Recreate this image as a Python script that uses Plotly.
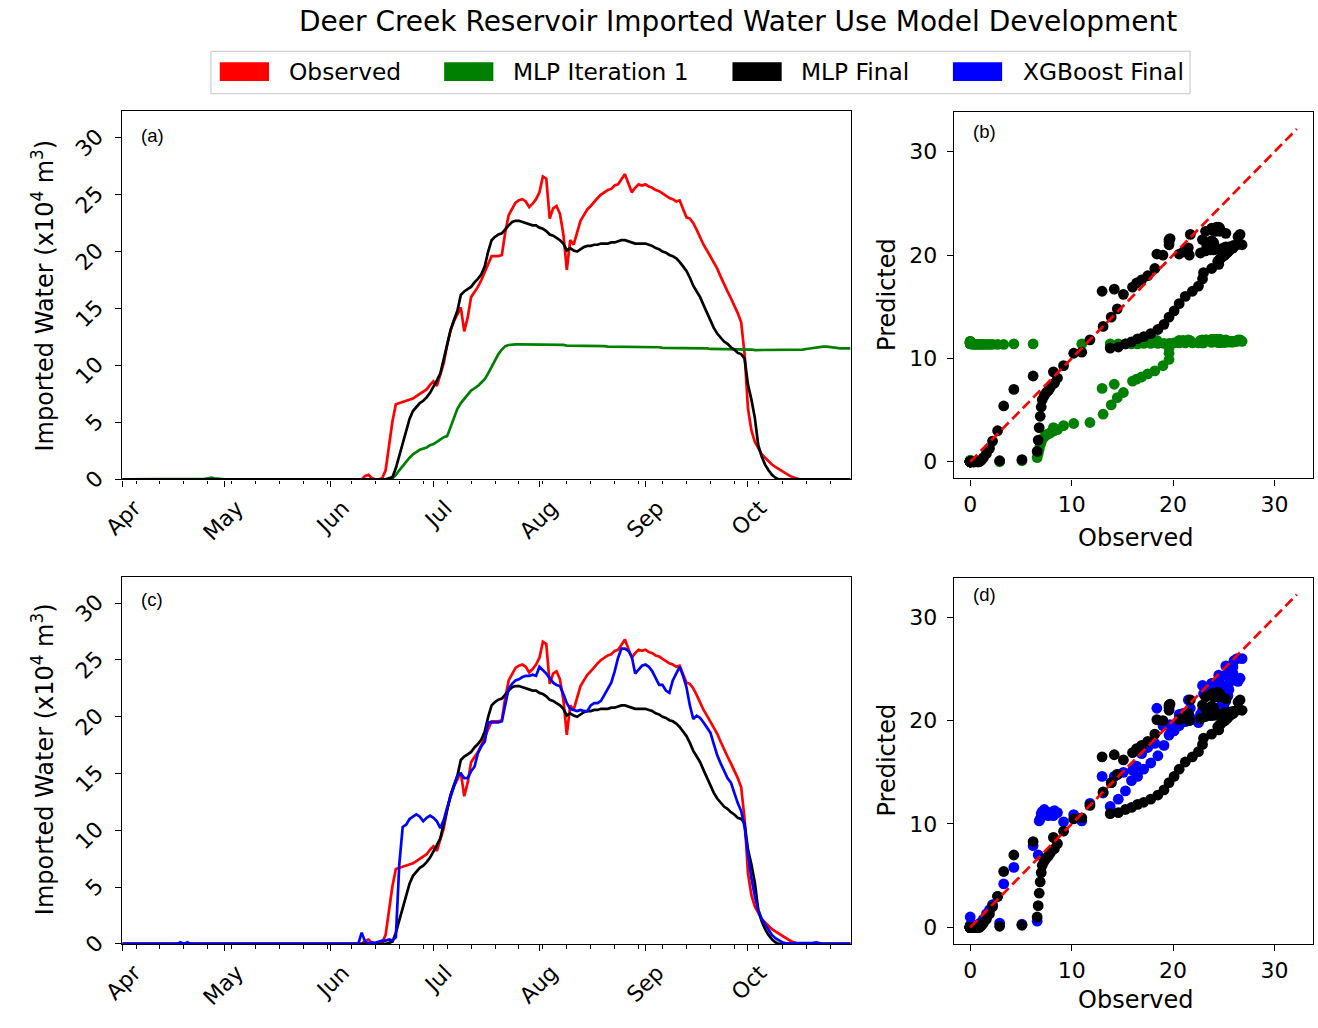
import pandas as pd
import plotly.graph_objects as go

# ---------------- data (daily, 1 Apr .. 31 Oct) ----------------
dates = pd.date_range("2022-04-01", "2022-10-31", freq="D")

observed = [
    0, 0, 0, 0, 0, 0, 0, 0, 0, 0,
    0, 0, 0, 0, 0, 0, 0, 0, 0, 0,
    0, 0, 0, 0, 0, 0, 0, 0, 0, 0,
    0, 0, 0, 0, 0, 0, 0, 0, 0, 0,
    0, 0, 0, 0, 0, 0, 0, 0, 0, 0,
    0, 0, 0, 0, 0, 0, 0, 0, 0, 0,
    0, 0, 0, 0, 0, 0, 0, 0, 0, 0,
    0.0, 0.3, 0.4, 0.1, 0.0, 0.0, 0.1, 0.8, 2.9, 5.1,
    6.6, 6.7, 6.8, 6.9, 7.0, 7.1, 7.3, 7.5, 7.7, 7.9,
    8.3, 8.6, 8.2, 9.2, 10.2, 11.8, 13.1, 13.9, 14.5, 15.1,
    13.0, 14.2, 16.0, 16.4, 16.9, 17.5, 18.2, 19.0, 19.6, 19.6,
    19.6, 19.7, 21.7, 23.2, 23.8, 24.3, 24.5, 24.6, 24.4, 23.9,
    24.2, 24.6, 25.2, 26.6, 26.4, 22.9, 23.8, 24.0, 23.3, 21.5,
    18.4, 21.0, 20.6, 21.6, 22.7, 23.2, 23.7, 24.0, 24.4, 24.7,
    25.0, 25.2, 25.4, 25.5, 25.8, 25.9, 26.3, 26.8, 26.0, 25.2,
    25.6, 25.9, 25.8, 25.9, 25.7, 25.6, 25.4, 25.3, 25.1, 24.9,
    24.7, 24.6, 24.4, 24.5, 23.8, 23.0, 22.9, 22.5, 21.9, 21.2,
    20.6, 20.1, 19.6, 19.1, 18.5, 17.8, 17.1, 16.5, 15.9, 15.3,
    14.6, 13.8, 11.0, 6.2, 4.3, 3.3, 2.7, 2.2, 1.9, 1.6,
    1.3, 1.1, 0.9, 0.7, 0.5, 0.35, 0.2, 0.1, 0, 0,
    0, 0, 0, 0, 0, 0, 0, 0, 0, 0,
    0, 0, 0, 0,
]

mlp_iter1 = [
    0, 0, 0, 0, 0, 0, 0, 0, 0, 0,
    0, 0, 0, 0, 0, 0, 0, 0, 0, 0,
    0, 0, 0, 0, 0.05, 0.1, 0.15, 0.1, 0.05, 0,
    0, 0, 0, 0, 0, 0, 0, 0, 0, 0,
    0, 0, 0, 0, 0, 0, 0, 0, 0, 0,
    0, 0, 0, 0, 0, 0, 0, 0, 0, 0,
    0, 0, 0, 0, 0, 0, 0, 0, 0, 0,
    0, 0, 0, 0, 0, 0, 0, 0, 0, 0.1,
    0.4, 0.8, 1.2, 1.6, 1.9, 2.2, 2.4, 2.6, 2.7, 2.8,
    3.0, 3.1, 3.3, 3.5, 3.7, 3.8, 4.6, 5.5, 6.2, 6.7,
    7.1, 7.5, 7.8, 8.0, 8.2, 8.5, 8.8, 9.3, 9.9, 10.5,
    11.0, 11.4, 11.7, 11.8, 11.85, 11.85, 11.85, 11.85, 11.85, 11.85,
    11.85, 11.85, 11.8, 11.8, 11.8, 11.8, 11.8, 11.8, 11.8, 11.8,
    11.75, 11.75, 11.75, 11.75, 11.75, 11.7, 11.7, 11.7, 11.7, 11.7,
    11.7, 11.7, 11.65, 11.65, 11.65, 11.65, 11.65, 11.65, 11.6, 11.6,
    11.6, 11.6, 11.6, 11.6, 11.6, 11.6, 11.6, 11.6, 11.55, 11.55,
    11.55, 11.55, 11.55, 11.55, 11.55, 11.5, 11.5, 11.5, 11.5, 11.5,
    11.5, 11.5, 11.45, 11.45, 11.45, 11.45, 11.45, 11.4, 11.4, 11.4,
    11.4, 11.4, 11.4, 11.4, 11.4, 11.35, 11.35, 11.35, 11.35, 11.35,
    11.35, 11.35, 11.35, 11.35, 11.35, 11.35, 11.4, 11.4, 11.4, 11.4,
    11.45, 11.5, 11.5, 11.55, 11.6, 11.65, 11.65, 11.6, 11.55, 11.5,
    11.5, 11.5, 11.5, 11.5,
]

mlp_final = [
    0, 0, 0, 0, 0, 0, 0, 0, 0, 0,
    0, 0, 0, 0, 0, 0, 0, 0, 0, 0,
    0, 0, 0, 0, 0, 0, 0, 0, 0, 0,
    0, 0, 0, 0, 0, 0, 0, 0, 0, 0,
    0, 0, 0, 0, 0, 0, 0, 0, 0, 0,
    0, 0, 0, 0, 0, 0, 0, 0, 0, 0,
    0, 0, 0, 0, 0, 0, 0, 0, 0, 0,
    0, 0, 0, 0, 0, 0, 0, 0, 0.1, 0.2,
    1.0, 2.1, 3.3, 4.4, 5.3, 6.0, 6.4, 6.7, 6.9, 7.2,
    7.6, 8.1, 8.7, 9.3, 10.5, 11.8, 13.1, 14.0, 14.8, 16.2,
    16.5, 16.7, 16.9, 17.3, 17.6, 18.0, 18.7, 20.0, 21.0, 21.3,
    21.5, 21.6, 22.0, 22.3, 22.6, 22.7, 22.7, 22.6, 22.5, 22.4,
    22.3, 22.3, 22.1, 22.0, 21.8, 21.5, 21.4, 21.2, 21.0, 20.7,
    20.1, 20.3, 20.1, 20.0, 20.2, 20.4, 20.5, 20.5, 20.6, 20.6,
    20.7, 20.7, 20.7, 20.8, 20.8, 20.9, 21.0, 21.0, 20.9, 20.8,
    20.7, 20.7, 20.7, 20.7, 20.6, 20.5, 20.3, 20.2, 20.0, 19.9,
    19.7, 19.6, 19.4, 19.1, 18.7, 18.3, 17.7, 17.0, 16.5, 16.0,
    15.3, 14.6, 14.0, 13.3, 12.8, 12.4, 12.1, 11.9, 11.6, 11.4,
    11.1, 11.0, 10.6, 8.3, 7.0, 5.4, 3.0, 2.0, 1.3, 0.8,
    0.4, 0.15, 0, 0, 0, 0, 0, 0, 0, 0,
    0, 0, 0, 0, 0, 0, 0, 0, 0, 0,
    0, 0, 0, 0,
]

xgb_final = [
    0, 0, 0, 0, 0, 0, 0, 0, 0, 0,
    0, 0, 0, 0, 0, 0, 0, 0.15, 0, 0.15,
    0, 0, 0, 0, 0, 0, 0, 0, 0, 0,
    0, 0, 0, 0, 0, 0, 0, 0, 0, 0,
    0, 0, 0, 0, 0, 0, 0, 0, 0, 0,
    0, 0, 0, 0, 0, 0, 0, 0, 0, 0,
    0, 0, 0, 0, 0, 0, 0, 0, 0, 0,
    1.0, 0.2, 0.05, 0.15, 0.1, 0.2, 0.3, 0.3, 0.4, 0.3,
    0.6, 7.0, 10.3, 10.5, 11.0, 11.2, 11.4, 11.2, 10.8, 11.1,
    11.3, 11.1, 10.8, 10.2, 10.9, 12.0, 13.0, 14.0, 14.8, 15.0,
    14.6, 14.6, 15.2, 15.6, 16.8, 17.4, 17.8, 19.5, 19.5, 19.5,
    19.5, 19.6, 21.2, 22.5, 22.9, 23.2, 23.3, 23.5, 23.6, 23.6,
    23.7, 23.6, 24.4, 24.1, 23.8, 23.4, 23.0, 22.8, 22.7, 22.0,
    21.2, 20.7, 20.6, 20.5, 20.6, 20.5, 20.5, 21.0, 21.2, 21.2,
    21.4, 21.9, 22.4, 23.0, 24.0, 25.2, 26.0, 26.0, 25.8, 25.3,
    23.8, 24.2, 24.5, 24.6, 24.4, 24.0, 23.4, 22.8, 22.8, 22.3,
    22.1, 23.2, 23.8, 24.4, 23.6, 22.6, 21.0, 19.8, 20.1, 19.9,
    19.5, 19.0, 18.6, 17.6, 16.6, 15.9, 15.3, 14.6, 14.2, 13.2,
    12.4, 11.7, 10.3, 7.9, 5.8, 4.2, 3.0, 2.2, 1.7, 1.3,
    0.8, 0.5, 0.3, 0.15, 0.05, 0.05, 0.05, 0.05, 0.05, 0.05,
    0.05, 0.05, 0.1, 0.15, 0.05, 0, 0, 0, 0, 0,
    0, 0, 0, 0,
]

one_to_one = [0, 32.2]

series_names = ["Observed", "MLP Iteration 1", "MLP Final", "XGBoost Final"]
series_colors = ["#ff0000", "#008000", "#000000", "#0000ff"]
month_ticks_start = "2022-04-01"
scatter_ticks = [0, 10, 20, 30]
ts_ticks = [0, 5, 10, 15, 20, 25, 30]

# ---------------- figure ----------------
W, H = 1318, 1028
FONT = "DejaVu Sans"
RED, GREEN, BLACK, BLUE = series_colors

fig = go.Figure()

def ts_line(y, color, xa, ya, name):
    return go.Scatter(x=dates, y=y, mode="lines", name=name, showlegend=False,
                      line=dict(color=color, width=2.7), xaxis=xa, yaxis=ya)

def sc_pts(xv, yv, color, xa, ya, name):
    return go.Scatter(x=xv, y=yv, mode="markers", name=name, showlegend=False,
                      marker=dict(color=color, size=10.8, line=dict(width=0)),
                      xaxis=xa, yaxis=ya)

# (a)
fig.add_trace(ts_line(observed, RED, "x", "y", series_names[0]))
fig.add_trace(ts_line(mlp_iter1, GREEN, "x", "y", series_names[1]))
fig.add_trace(ts_line(mlp_final, BLACK, "x", "y", series_names[2]))
# (b)
fig.add_trace(sc_pts(observed, mlp_iter1, GREEN, "x2", "y2", series_names[1]))
fig.add_trace(sc_pts(observed, mlp_final, BLACK, "x2", "y2", series_names[2]))
fig.add_trace(go.Scatter(x=one_to_one, y=one_to_one, mode="lines", showlegend=False,
                         line=dict(color=RED, width=2.7, dash="10px,5px"),
                         xaxis="x2", yaxis="y2"))
# (c)
fig.add_trace(ts_line(observed, RED, "x3", "y3", series_names[0]))
fig.add_trace(ts_line(mlp_final, BLACK, "x3", "y3", series_names[2]))
fig.add_trace(ts_line(xgb_final, BLUE, "x3", "y3", series_names[3]))
# (d)
fig.add_trace(sc_pts(observed, xgb_final, BLUE, "x4", "y4", series_names[3]))
fig.add_trace(sc_pts(observed, mlp_final, BLACK, "x4", "y4", series_names[2]))
fig.add_trace(go.Scatter(x=one_to_one, y=one_to_one, mode="lines", showlegend=False,
                         line=dict(color=RED, width=2.7, dash="10px,5px"),
                         xaxis="x4", yaxis="y4"))

def px_x(v):
    return v / W

def px_y(v):
    return 1 - v / H

tick_font = dict(family=FONT, size=22, color="black")
axis_common = dict(showline=True, linecolor="black", linewidth=1.3, mirror=True,
                   showgrid=False, zeroline=False, ticks="outside", ticklen=6,
                   tickwidth=1.3, tickcolor="black", tickfont=tick_font)

def time_xaxis(anchor):
    return dict(axis_common, anchor=anchor, domain=[px_x(103), px_x(843)], type="date",
                range=["2022-04-01", "2022-10-31"], tick0=month_ticks_start, dtick="M1",
                tickformat="%b", tickangle=-45, ticklabelshift=12,
                minor=dict(ticks="outside", ticklen=3.5, tickwidth=1.1, tickcolor="black",
                           dtick=7 * 86400000, tick0="2022-04-05", showgrid=False))

def time_yaxis(anchor, top, bottom):
    return dict(axis_common, anchor=anchor, domain=[px_y(bottom), px_y(top)],
                range=[0, 32.3], tickmode="array", tickvals=ts_ticks, tickangle=-45,
                ticklabelshift=-4, ticklabelstandoff=14)

def sc_xaxis(anchor):
    return dict(axis_common, anchor=anchor, domain=[px_x(948), px_x(1313)],
                range=[-1.61, 33.8], tickmode="array", tickvals=scatter_ticks)

def sc_yaxis(anchor, top, bottom):
    return dict(axis_common, anchor=anchor, domain=[px_y(bottom), px_y(top)],
                range=[-1.61, 33.8], tickmode="array", tickvals=scatter_ticks,
                ticklabelstandoff=5)

fig.update_layout(
    width=W, height=H, autosize=False,
    margin=dict(l=0, r=0, t=0, b=0),
    paper_bgcolor="white", plot_bgcolor="white",
    showlegend=False,
    xaxis=time_xaxis("y"),
    yaxis=time_yaxis("x", 113, 486),
    xaxis2=sc_xaxis("y2"),
    yaxis2=sc_yaxis("x2", 114, 485),
    xaxis3=time_xaxis("y3"),
    yaxis3=time_yaxis("x3", 585, 957),
    xaxis4=sc_xaxis("y4"),
    yaxis4=sc_yaxis("x4", 586, 957),
)

ann = []
shapes = []

# title
ann.append(dict(text="Deer Creek Reservoir Imported Water Use Model Development",
                x=px_x(729), y=px_y(22), xref="paper", yref="paper",
                xanchor="center", yanchor="middle", showarrow=False,
                font=dict(family=FONT, size=28, color="black")))

# legend frame + entries
shapes.append(dict(type="rect", xref="paper", yref="paper",
                   x0=px_x(193), x1=px_x(1188), y0=px_y(95), y1=px_y(52),
                   line=dict(color="#d0d0d0", width=1.3), fillcolor="white", layer="below"))
patch_x = [202, 430, 723, 947]
text_x = [270, 498, 791, 1016]
for name, col, px0, tx in zip(series_names, series_colors, patch_x, text_x):
    shapes.append(dict(type="rect", xref="paper", yref="paper",
                       x0=px_x(px0), x1=px_x(px0 + 50), y0=px_y(82), y1=px_y(63),
                       line=dict(width=0), fillcolor=col))
    ann.append(dict(text=name, x=px_x(tx), y=px_y(72.5), xref="paper", yref="paper",
                    xanchor="left", yanchor="middle", showarrow=False,
                    font=dict(family=FONT, size=23.3, color="black")))

# panel labels
for lab, lx, ly in [("(a)", 120, 137), ("(b)", 965, 133), ("(c)", 120, 608), ("(d)", 965, 603)]:
    ann.append(dict(text=lab, x=px_x(lx), y=px_y(ly), xref="paper", yref="paper",
                    xanchor="left", yanchor="middle", showarrow=False,
                    font=dict(family="Liberation Sans", size=18.5, color="black")))

# axis titles
ytitle = "Imported Water (x10<sup>4</sup> m<sup>3</sup>)"
for cy in [300, 770]:
    ann.append(dict(text=ytitle, x=px_x(22), y=px_y(cy), xref="paper", yref="paper",
                    xanchor="center", yanchor="middle", textangle=-90, showarrow=False,
                    font=dict(family=FONT, size=24, color="black")))
for cy in [298, 770]:
    ann.append(dict(text="Predicted", x=px_x(880), y=px_y(cy), xref="paper", yref="paper",
                    xanchor="center", yanchor="middle", textangle=-90, showarrow=False,
                    font=dict(family=FONT, size=24, color="black")))
for cy in [545, 1014]:
    ann.append(dict(text="Observed", x=px_x(1133), y=px_y(cy), xref="paper", yref="paper",
                    xanchor="center", yanchor="middle", showarrow=False,
                    font=dict(family=FONT, size=24, color="black")))

fig.update_layout(annotations=ann, shapes=shapes)

post = (
    "document.documentElement.style.margin='0px';"
    "document.body.style.margin='0px';"
    "document.body.style.overflow='hidden';"
)
fig.write_html("out.html", config={"displayModeBar": False}, post_script=post)
